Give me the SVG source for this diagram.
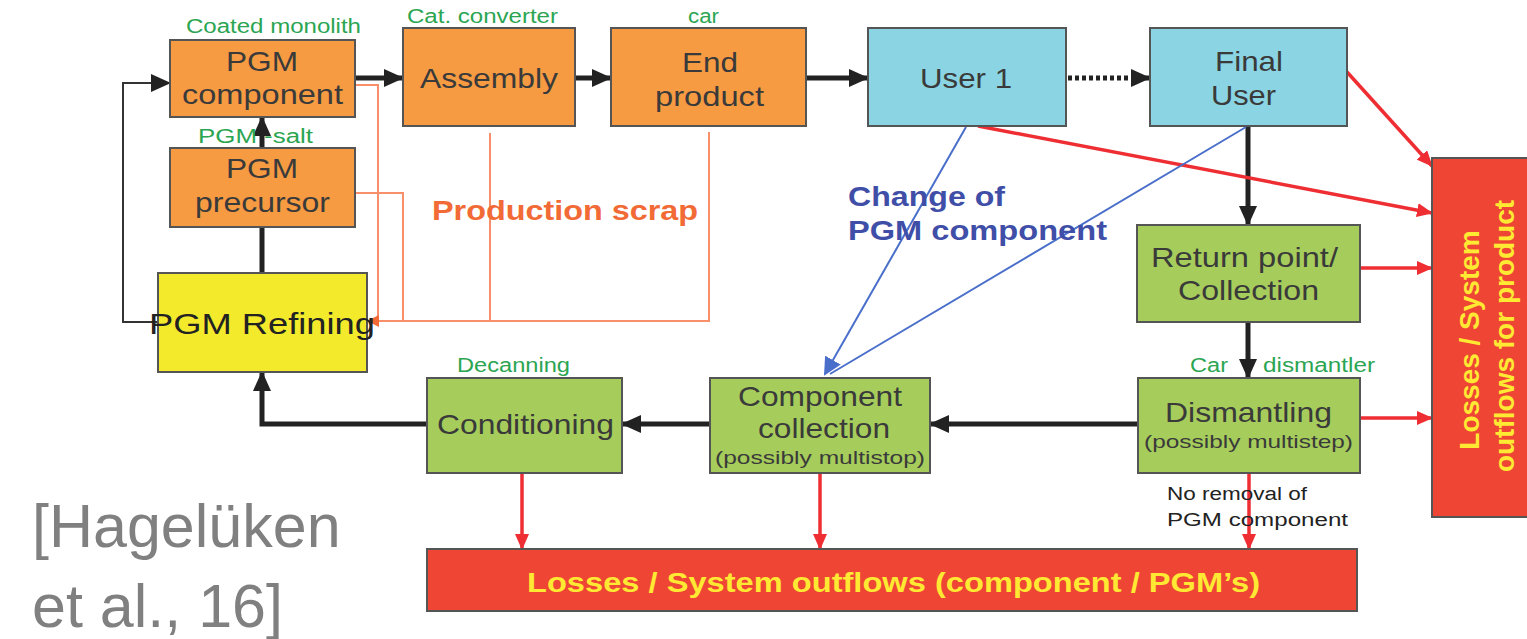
<svg xmlns="http://www.w3.org/2000/svg" width="1527" height="639" viewBox="0 0 1527 639">
<style>
.box{stroke:#555;stroke-width:2}
.org{fill:#F79B43}
.yel{fill:#F3EA2C}
.cyan{fill:#8AD4E3}
.grn{fill:#A6CD5B}
.red{fill:#EE4535}
.t{font-family:"Liberation Sans",Arial,sans-serif;fill:#3a3a3a;font-size:28px}
.sm{font-family:"Liberation Sans",Arial,sans-serif;fill:#3a3a3a;font-size:19px}
.lbl{font-family:"Liberation Sans",Arial,sans-serif;fill:#2BA552;font-size:20px}
.yt{font-family:"Liberation Sans",Arial,sans-serif;fill:#FFE933;font-size:27px;font-weight:bold}
.blk{stroke:#222;stroke-width:5;fill:none}
.thin{stroke:#333;stroke-width:2;fill:none}
.rl{stroke:#EE2E33;stroke-width:3.5;fill:none}
.ol{stroke:#F7906A;stroke-width:2;fill:none}
.bl{stroke:#4A6FCB;stroke-width:2;fill:none}
</style>
<defs>
<marker id="ab" markerUnits="userSpaceOnUse" viewBox="0 0 20 18" markerWidth="20" markerHeight="18" refX="19" refY="9" orient="auto"><path d="M0,0 L20,9 L0,18 z" fill="#222"/></marker>
<marker id="ar" markerUnits="userSpaceOnUse" viewBox="0 0 16 14" markerWidth="16" markerHeight="14" refX="15" refY="7" orient="auto"><path d="M0,0 L16,7 L0,14 z" fill="#EE2E33"/></marker>
<marker id="ao" markerUnits="userSpaceOnUse" viewBox="0 0 12 12" markerWidth="12" markerHeight="12" refX="11" refY="6" orient="auto"><path d="M0,0 L12,6 L0,12 z" fill="#F26A35"/></marker>
<marker id="abl" markerUnits="userSpaceOnUse" viewBox="0 0 18 18" markerWidth="18" markerHeight="18" refX="16" refY="9" orient="auto"><path d="M0,0 L18,9 L0,18 z" fill="#4A6FCB"/></marker>
</defs>

<g id="connectors">
<line class="blk" x1="355" y1="78" x2="403" y2="78" marker-end="url(#ab)"/>
<line class="blk" x1="575" y1="78" x2="611" y2="78" marker-end="url(#ab)"/>
<line class="blk" x1="806" y1="78" x2="868" y2="78" marker-end="url(#ab)"/>
<line x1="1068" y1="78" x2="1150" y2="78" stroke="#222" stroke-width="5" stroke-dasharray="4,3" marker-end="url(#ab)"/>
<line class="blk" x1="262" y1="148" x2="262" y2="117" marker-end="url(#ab)"/>
<line class="blk" x1="262" y1="273" x2="262" y2="227"/>
<path class="thin" d="M158,322 H123 V83 H170" marker-end="url(#ab)"/>
<line class="blk" x1="1248" y1="126" x2="1248" y2="225" marker-end="url(#ab)"/>
<line class="blk" x1="1248" y1="322" x2="1248" y2="378" marker-end="url(#ab)"/>
<line class="blk" x1="1138" y1="424" x2="930" y2="424" marker-end="url(#ab)"/>
<line class="blk" x1="710" y1="424" x2="622" y2="424" marker-end="url(#ab)"/>
<path class="blk" d="M427,424 H262 V372" marker-end="url(#ab)"/>
<line class="rl" x1="1347" y1="72" x2="1432" y2="166" marker-end="url(#ar)"/>
<line class="rl" x1="978" y1="126" x2="1432" y2="213" marker-end="url(#ar)"/>
<line class="rl" x1="1360" y1="268" x2="1432" y2="268" marker-end="url(#ar)"/>
<line class="rl" x1="1360" y1="418" x2="1432" y2="418" marker-end="url(#ar)"/>
<line class="rl" x1="522" y1="473" x2="522" y2="549" marker-end="url(#ar)"/>
<line class="rl" x1="820" y1="473" x2="820" y2="549" marker-end="url(#ar)"/>
<line class="rl" x1="1249" y1="473" x2="1249" y2="549" marker-end="url(#ar)"/>
<path class="ol" d="M355,85 H378 V322"/>
<path class="ol" d="M355,193 H403 V322"/>
<path class="ol" d="M490,133 V322"/>
<path class="ol" d="M709,132 V321 H368" marker-end="url(#ao)"/>
<line class="bl" x1="966" y1="127" x2="825" y2="374" marker-end="url(#abl)"/>
<line class="bl" x1="1246" y1="127" x2="830" y2="374"/>
</g>

<g id="pgm-component"><rect class="box org" x="170" y="40" width="185" height="77"/>
<text class="t" x="226" y="71" textLength="72" lengthAdjust="spacingAndGlyphs">PGM</text>
<text class="t" x="182" y="104" textLength="161" lengthAdjust="spacingAndGlyphs">component</text></g>
<g id="pgm-precursor"><rect class="box org" x="170" y="148" width="185" height="79"/>
<text class="t" x="226" y="178" textLength="72" lengthAdjust="spacingAndGlyphs">PGM</text>
<text class="t" x="195" y="212" textLength="135" lengthAdjust="spacingAndGlyphs">precursor</text></g>
<g id="pgm-refining"><rect class="box yel" x="158" y="273" width="209" height="99"/>
<text class="t" x="149" y="334" textLength="226" lengthAdjust="spacingAndGlyphs" style="font-size:30px;fill:#222">PGM Refining</text></g>
<g id="assembly"><rect class="box org" x="403" y="28" width="172" height="98"/>
<text class="t" x="420" y="88" textLength="138" lengthAdjust="spacingAndGlyphs">Assembly</text></g>
<g id="end-product"><rect class="box org" x="611" y="28" width="195" height="98"/>
<text class="t" x="682" y="72" textLength="56" lengthAdjust="spacingAndGlyphs">End</text>
<text class="t" x="655" y="106" textLength="109" lengthAdjust="spacingAndGlyphs">product</text></g>
<g id="user1"><rect class="box cyan" x="868" y="28" width="198" height="98"/>
<text class="t" x="920" y="88" textLength="92" lengthAdjust="spacingAndGlyphs">User 1</text></g>
<g id="final-user"><rect class="box cyan" x="1150" y="28" width="197" height="98"/>
<text class="t" x="1215" y="71" textLength="68" lengthAdjust="spacingAndGlyphs">Final</text>
<text class="t" x="1211" y="105" textLength="65" lengthAdjust="spacingAndGlyphs">User</text></g>
<g id="return-point"><rect class="box grn" x="1137" y="225" width="223" height="97"/>
<text class="t" x="1151" y="267" textLength="187" lengthAdjust="spacingAndGlyphs">Return point/</text>
<text class="t" x="1178" y="300" textLength="141" lengthAdjust="spacingAndGlyphs">Collection</text></g>
<g id="dismantling"><rect class="box grn" x="1138" y="378" width="222" height="95"/>
<text class="t" x="1165" y="422" textLength="167" lengthAdjust="spacingAndGlyphs">Dismantling</text>
<text class="sm" x="1144" y="448" textLength="209" lengthAdjust="spacingAndGlyphs">(possibly multistep)</text></g>
<g id="component-collection"><rect class="box grn" x="710" y="378" width="220" height="95"/>
<text class="t" x="738" y="406" textLength="164" lengthAdjust="spacingAndGlyphs">Component</text>
<text class="t" x="758" y="438" textLength="132" lengthAdjust="spacingAndGlyphs">collection</text>
<text class="sm" x="715" y="464" textLength="210" lengthAdjust="spacingAndGlyphs">(possibly multistop)</text></g>
<g id="conditioning"><rect class="box grn" x="427" y="378" width="195" height="95"/>
<text class="t" x="437" y="434" textLength="177" lengthAdjust="spacingAndGlyphs">Conditioning</text></g>
<g id="losses-component"><rect class="box red" x="427" y="549" width="930" height="62"/>
<text class="yt" x="527" y="592" textLength="733" lengthAdjust="spacingAndGlyphs">Losses / System outflows (component / PGM’s)</text></g>
<g id="losses-product"><rect class="box red" x="1432" y="158" width="100" height="359"/>
<text class="yt" transform="translate(1479,340) rotate(-90)" text-anchor="middle" x="0" y="0" style="font-size:28px">Losses / System</text>
<text class="yt" transform="translate(1514,336) rotate(-90)" text-anchor="middle" x="0" y="0" style="font-size:28px">outflows for product</text></g>

<g id="labels">
<text class="lbl" x="186" y="33" textLength="175" lengthAdjust="spacingAndGlyphs">Coated monolith</text>
<text class="lbl" x="407" y="23" textLength="151" lengthAdjust="spacingAndGlyphs">Cat. converter</text>
<text class="lbl" x="688" y="23" textLength="31" lengthAdjust="spacingAndGlyphs">car</text>
<text class="lbl" x="198" y="143" textLength="115" lengthAdjust="spacingAndGlyphs">PGM -salt</text>
<text class="lbl" x="457" y="372" textLength="113" lengthAdjust="spacingAndGlyphs">Decanning</text>
<text class="lbl" x="1190" y="372" textLength="38" lengthAdjust="spacingAndGlyphs">Car</text>
<text class="lbl" x="1263" y="372" textLength="112" lengthAdjust="spacingAndGlyphs">dismantler</text>
<text x="432" y="220" font-family="Liberation Sans, Arial, sans-serif" font-weight="bold" font-size="28" fill="#F26A35" textLength="266" lengthAdjust="spacingAndGlyphs">Production scrap</text>
<text x="848" y="206" font-family="Liberation Sans, Arial, sans-serif" font-weight="bold" font-size="27" fill="#3F4FA8" textLength="157" lengthAdjust="spacingAndGlyphs">Change of</text>
<text x="848" y="240" font-family="Liberation Sans, Arial, sans-serif" font-weight="bold" font-size="27" fill="#3F4FA8" textLength="259" lengthAdjust="spacingAndGlyphs">PGM component</text>
<text x="1167" y="500" font-family="Liberation Sans, Arial, sans-serif" font-size="18" fill="#222" textLength="140" lengthAdjust="spacingAndGlyphs">No removal of</text>
<text x="1167" y="526" font-family="Liberation Sans, Arial, sans-serif" font-size="18" fill="#222" textLength="181" lengthAdjust="spacingAndGlyphs">PGM component</text>
<text x="32" y="547" font-family="Liberation Sans, Arial, sans-serif" font-size="61" fill="#808080">[Hagelüken</text>
<text x="32" y="627" font-family="Liberation Sans, Arial, sans-serif" font-size="61" fill="#808080">et al., 16]</text>
</g>
</svg>
